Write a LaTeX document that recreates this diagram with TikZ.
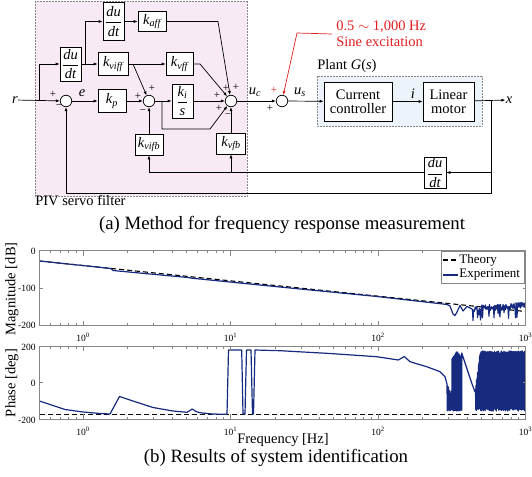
\documentclass[tikz,border=0pt]{standalone}
\usepackage{amsmath}
\usepackage{fontspec}
\setmainfont{Liberation Serif}
\usetikzlibrary{arrows.meta}

\definecolor{pivpink}{RGB}{247,234,244}
\definecolor{plantblue}{RGB}{237,243,250}
\definecolor{navyline}{RGB}{22,42,128}
\definecolor{axisgray}{RGB}{135,135,135}
\definecolor{excred}{RGB}{225,30,30}

\begin{document}
\begin{tikzpicture}[x=1pt,y=-1pt,line width=0.7pt,
  >={Latex[length=4pt,width=3pt]},
  blk/.style={draw,fill=white,inner sep=0pt,font=\fontsize{14.5}{15}\selectfont},
  sumj/.style={draw,circle,fill=white,minimum size=11.5pt,inner sep=0pt},
  sgn/.style={inner sep=0pt,font=\fontsize{11}{11}\selectfont},
  lbl/.style={inner sep=0pt,font=\fontsize{14.5}{15}\selectfont},
  tck/.style={inner sep=0pt,font=\fontsize{9.5}{9.5}\selectfont},
  captxt/.style={inner sep=0pt,font=\fontsize{18.8}{20}\selectfont},
  frame/.style={axisgray,line width=0.6pt},
  expline/.style={navyline,line width=1.2pt,line join=round},
  thline/.style={black,line width=1.1pt,dash pattern=on 5pt off 3pt}]
\useasboundingbox (0,0) rectangle (532,476);
\pgfmathsetseed{7}

\fill[pivpink] (35,1) rectangle (247,196);
\draw[axisgray,densely dotted,line width=0.5pt] (35,1) rectangle (247,196);
\fill[plantblue] (317,76) rectangle (482,126);
\draw[axisgray,densely dotted,line width=0.5pt] (317,76) rectangle (482,126);
\node[lbl,anchor=west] (piv) at (35,201) {PIV servo filter};
\node[lbl,anchor=west] (plant) at (317,66) {Plant \textit{G}(\textit{s})};

\node[lbl] (r) at (15,100) {\textit{r}};
\node[sumj] (sum1) at (66,101) {};
\node[blk,minimum width=28pt,minimum height=23pt] (kp) at (112,101) {$\textit{k}_{\textit{p}}$};
\node[sumj] (sum2) at (149,101) {};
\node[blk,minimum width=21pt,minimum height=34pt] (ki) at (182.5,101) {$\dfrac{\textit{k}_{\textit{i}}}{\textit{s}}$};
\node[sumj] (sum3) at (231,101) {};
\node[sumj] (sum4) at (282,101) {};
\node[blk,minimum width=68pt,minimum height=39pt,align=center] (cc) at (358,101.5) {Current\\[-1pt]controller};
\node[blk,minimum width=51pt,minimum height=39pt,align=center] (lm) at (448.5,101.5) {Linear\\[-1pt]motor};
\node[lbl] (x) at (509,100) {\textit{x}};

\node[blk,minimum width=21pt,minimum height=34pt] (dudt1) at (70.5,64) {$\dfrac{\textit{du}}{\textit{dt}}$};
\node[blk,minimum width=21pt,minimum height=38pt] (dudt2) at (113.5,21.5) {$\dfrac{\textit{du}}{\textit{dt}}$};
\node[blk,minimum width=28pt,minimum height=20pt] (kaff) at (152,21.5) {$\textit{k}_{\textit{aff}}$};
\node[blk,minimum width=30pt,minimum height=23pt] (kviff) at (113,64) {$\textit{k}_{\textit{viff}}$};
\node[blk,minimum width=27pt,minimum height=23pt] (kvff) at (179.5,64) {$\textit{k}_{\textit{vff}}$};
\node[blk,minimum width=28pt,minimum height=21pt] (kvifb) at (149,144.5) {$\textit{k}_{\textit{vifb}}$};
\node[blk,minimum width=29pt,minimum height=21pt] (kvfb) at (231,143.5) {$\textit{k}_{\textit{vfb}}$};
\node[blk,minimum width=22pt,minimum height=31pt] (dudt3) at (435,172.5) {$\dfrac{\textit{du}}{\textit{dt}}$};

\node[lbl] (e) at (82,93) {\textit{e}};
\node[lbl] (uc) at (255,92) {$\textit{u}_{\textit{c}}$};
\node[lbl] (us) at (300,92) {$\textit{u}_{\textit{s}}$};
\node[lbl] (i) at (413,94) {\textit{i}};

\node[sgn] at (53,94) {+};
\node[sgn] at (59,107) {−};
\node[sgn] at (138,96) {+};
\node[sgn] at (152,88) {+};
\node[sgn] at (143,112) {−};
\node[sgn] at (226,88) {+};
\node[sgn] at (236,87) {+};
\node[sgn] at (217,95) {+};
\node[sgn] at (219,108) {+};
\node[sgn] at (228,116) {−};
\node[sgn,excred] at (274,90) {+};
\node[sgn] at (270,108) {+};

\coordinate (rb) at (39,101);
\coordinate (db) at (85,64);
\coordinate (vb) at (133,64);
\coordinate (ib) at (162,101);
\coordinate (ibb) at (210,129);
\coordinate (kaffb) at (218,21.5);
\coordinate (kvffb) at (200,64);
\coordinate (xb) at (491,101);
\coordinate (xbb) at (491,193);
\coordinate (vfb) at (231,172.5);

\draw[->] (r) -- (sum1);
\draw[->] (rb) |- (dudt1);
\draw[->] (sum1) -- (kp);
\draw[->] (kp) -- (sum2);
\draw[->] (sum2) -- (ki);
\draw[->] (ki) -- (sum3);
\draw[->] (ib) |- (ibb) -- (sum3);
\draw[->] (dudt1) -- (kviff);
\draw[->] (db) |- (dudt2);
\draw[->] (dudt2) -- (kaff);
\draw[->] (kaff) -- (kaffb) -- (sum3);
\draw[->] (kviff) -- (kvff);
\draw[->] (vb) -- (sum2);
\draw[->] (kvff) -- (kvffb) -- (sum3);
\draw[->] (kvifb) -- (sum2);
\draw[->] (kvfb) -- (sum3);
\draw[->] (sum3) -- (sum4);
\draw[->] (sum4) -- (cc);
\draw[->] (cc) -- (lm);
\draw[->] (lm) -- (x);
\draw[->] (xb) |- (dudt3);
\draw[->] (xb) -- (xbb) -| (sum1);
\draw[->] (dudt3) -| (kvifb);
\draw[->] (vfb) -- (kvfb);

\node[lbl,excred,anchor=west,align=left] (exc) at (336,34) {0.5 $\sim$ 1,000 Hz\\[1pt]Sine excitation};
\coordinate (excb) at (297,33);
\draw[excred,->] ([xshift=-4pt]exc.west) -- (excb) -- (sum4);

\node[captxt] (capa) at (282,225) {(a) Method for frequency response measurement};

% magnitude
\draw[thline] (39.5,261) -- (525.5,311.5);
\draw[expline] (39.5,261) -- (111,268.5) -- (113,270.5) -- (150,274) -- (188,277.5) -- (192,278.2) -- (280,287) -- (377,296.5) -- (443,304) -- (447,304.5) -- (450,306) -- (453,314) -- (455,315.5) -- (457,312) -- (460,305.5) -- (463,311) -- (467,306.5) -- (472,309)
  \foreach \t in {472.5,473,...,525.5} { -- (\t,{309-(\t-472)*0.07+3.5*rand+9*(rnd>0.88)}) };
\draw[frame] (39.5,250.7) rectangle (525.5,325.7);
\foreach \d in {0,1,2} {
  \draw[frame] ({83+147.5*\d},250.7) -- ++(0,5);
  \draw[frame] ({83+147.5*\d},325.7) -- ++(0,-5);
}
\foreach \f in {0.6,0.7,0.8,0.9,2,3,4,5,6,7,8,9,20,30,40,50,60,70,80,90,200,300,400,500,600,700,800,900} {
  \draw[frame] ({83+147.5*log10(\f)},250.7) -- ++(0,2.5);
  \draw[frame] ({83+147.5*log10(\f)},325.7) -- ++(0,-2.5);
}
\draw[frame] (39.5,288.2) -- ++(3,0);
\draw[frame] (525.5,288.2) -- ++(-3,0);
\node[tck,anchor=east] at (36,251) {0};
\node[tck,anchor=east] at (36,288.2) {-100};
\node[tck,anchor=east] at (36,325.7) {-200};
\foreach \d/\e in {0/0,1/1,2/2,3/3}
  \node[tck] at ({83+147.5*\d},337) {10\textsuperscript{\e}};
\node[lbl,rotate=90] at (12,289) {Magnitude [dB]};

\draw[frame,fill=white] (441,251) rectangle (524.5,283);
\draw[thline] (443,260) -- (458,260);
\draw[expline] (443,275) -- (458,275);
\node[anchor=west,inner sep=0pt,font=\fontsize{13}{13}\selectfont] at (459,260) {Theory};
\node[anchor=west,inner sep=0pt,font=\fontsize{13}{13}\selectfont] at (459,275) {Experiment};

% phase
\draw[thline] (39.5,414.5) -- (525.5,414.5);
\draw[expline] (39.5,401) -- (50,404.5) -- (65,409.5) -- (83,412) -- (100,413.5) -- (110,414) -- (119.5,396.5) -- (133,401) -- (153,407.5) -- (173,411) -- (187,412.3) -- (192.3,409) -- (196,411.5) -- (200,412.7) -- (212,414) -- (227,414.3) -- (228.5,350) -- (241.7,350) -- (243,414) -- (245,414) -- (246.5,350) -- (251,350) -- (252.5,414) -- (253.5,414) -- (255,350) -- (280,350.7) -- (330,353.5) -- (376.7,356.7) -- (398.3,360) -- (404.3,356.5) -- (410,361.7) -- (426.7,366.7) -- (440,371.7) -- (445,376.7) -- (446.7,383)
  \foreach \t in {447,447.5,...,451.5} { -- (\t,{383+(\t-447)*2.5+3*rnd}) -- (\t+0.25,{411-2*rnd}) }
  \foreach \t in {452,452.5,...,461.5} { -- (\t,{351+abs(\t-457)*1.4+2*rnd}) -- (\t+0.25,{411-2*rnd}) }
  -- (461.7,353) -- (471.7,383) -- (475,392);
\draw[expline] (475,392) \foreach \t in {475.5,476,...,480} { -- (\t,{392-(\t-475)*8+4*rnd}) -- (\t+0.25,{411-3*rnd}) }
  \foreach \t in {480.5,481,...,525} { -- (\t,{351+2.5*rnd}) -- (\t+0.25,{411-3*rnd}) };
\draw[frame] (39.5,346) rectangle (525.5,419);
\foreach \d in {0,1,2} {
  \draw[frame] ({83+147.5*\d},346) -- ++(0,5);
  \draw[frame] ({83+147.5*\d},419) -- ++(0,-5);
}
\foreach \f in {0.6,0.7,0.8,0.9,2,3,4,5,6,7,8,9,20,30,40,50,60,70,80,90,200,300,400,500,600,700,800,900} {
  \draw[frame] ({83+147.5*log10(\f)},346) -- ++(0,2.5);
  \draw[frame] ({83+147.5*log10(\f)},419) -- ++(0,-2.5);
}
\draw[frame] (39.5,382.5) -- ++(3,0);
\draw[frame] (525.5,382.5) -- ++(-3,0);
\node[tck,anchor=east] at (36,347) {200};
\node[tck,anchor=east] at (36,383) {0};
\node[tck,anchor=east] at (36,420) {-200};
\foreach \d/\e in {0/0,1/1,2/2,3/3}
  \node[tck] at ({83+147.5*\d},431) {10\textsuperscript{\e}};
\node[lbl,rotate=90] at (12,383) {Phase [deg]};
\node[lbl] at (283,440) {Frequency [Hz]};

\node[captxt] (capb) at (276,458) {(b) Results of system identification};
\end{tikzpicture}
\end{document}
